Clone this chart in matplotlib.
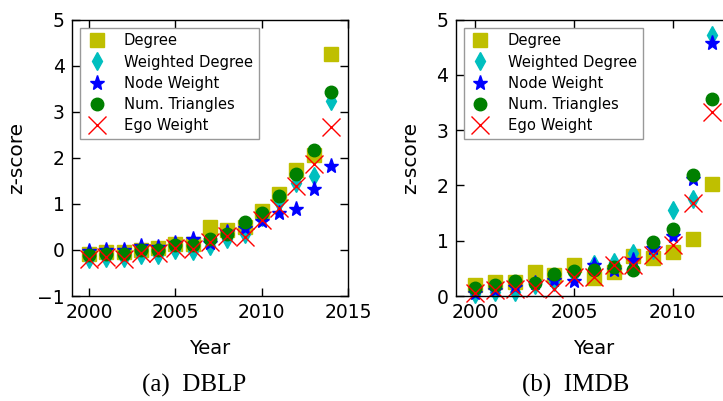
"""
Temporal z-score of node measures for DBLP and IMDB, one panel per network.
"""

import matplotlib

matplotlib.use("Agg")
import matplotlib.pyplot as plt

# ---------------------------------------------------------------------------
# Data
# ---------------------------------------------------------------------------

DBLP_YEARS = list(range(2000, 2015))
DBLP_DEGREE = [-0.08, -0.05, -0.05, 0.00, 0.05, 0.12, 0.12, 0.49, 0.43, 0.50,
               0.84, 1.21, 1.73, 2.07, 4.25]
DBLP_WDEGREE = [-0.20, -0.17, -0.17, -0.10, -0.10, 0.00, -0.03, 0.08, 0.24, 0.34,
                0.72, 1.03, 1.46, 1.60, 3.24]
DBLP_NODEW = [-0.03, 0.00, 0.00, 0.08, 0.06, 0.16, 0.23, 0.14, 0.39, 0.48,
              0.63, 0.81, 0.88, 1.33, 1.82]
DBLP_TRI = [-0.12, -0.08, -0.08, -0.01, 0.00, 0.10, 0.10, 0.24, 0.34, 0.60,
            0.81, 1.18, 1.64, 2.16, 3.42]
DBLP_EGO = [-0.19, -0.15, -0.19, -0.06, -0.06, 0.05, 0.03, 0.17, 0.31, 0.27,
            0.66, 0.90, 1.39, 1.86, 2.66]

IMDB_YEARS = list(range(2000, 2013))
IMDB_DEGREE = [0.20, 0.26, 0.26, 0.44, 0.38, 0.56, 0.32, 0.43, 0.73, 0.69,
               0.80, 1.03, 2.03]
IMDB_WDEGREE = [0.03, 0.08, 0.07, 0.20, 0.25, 0.40, 0.58, 0.62, 0.77, 0.84,
                1.55, 1.75, 4.72]
IMDB_NODEW = [0.05, 0.10, 0.17, 0.23, 0.29, 0.28, 0.56, 0.47, 0.65, 0.86,
              1.09, 2.11, 4.58]
IMDB_TRI = [0.14, 0.19, 0.27, 0.23, 0.40, 0.45, 0.47, 0.53, 0.47, 0.98,
            1.21, 2.19, 3.56]
IMDB_EGO = [0.05, 0.10, 0.12, 0.14, 0.12, 0.35, 0.35, 0.56, 0.56, 0.74,
            0.92, 1.68, 3.33]

LABELS = ["Degree", "Weighted Degree", "Node Weight", "Num. Triangles", "Ego Weight"]
MARKERS = ["s", "d", "*", "o", "x"]
COLORS = ["#bfbf00", "#00bfbf", "#0000ff", "#008000", "#ff0000"]
SIZES = [10, 9, 11, 9, 12.5]

W, H = 723, 401


def _panel(fig, rect, years, series, xlim, ylim, xticks, yticks):
    ax = fig.add_axes(rect)
    for vals, lab, mk, col, ms in zip(series, LABELS, MARKERS, COLORS, SIZES):
        ax.plot(years, vals, linestyle="none", marker=mk, color=col, mec=col,
                mew=1.0, ms=ms, label=lab, clip_on=False)
    ax.set_xticks(xticks)
    ax.set_yticks(yticks)
    ax.set_xlim(*xlim)
    ax.set_ylim(*ylim)
    ax.tick_params(direction="in", top=True, right=True, length=6, width=1,
                   labelsize=13.5, pad=5)
    ax.set_xlabel("Year", fontsize=14)
    ax.set_ylabel("z-score", fontsize=14.5)
    ax.xaxis.set_label_coords(0.5, -0.155)
    for sp in ax.spines.values():
        sp.set_linewidth(1.0)

    dx = 8 / (rect[2] * W)
    dy = 8 / (rect[3] * H)
    leg = ax.legend(loc="upper left", bbox_to_anchor=(dx, 1 - dy), borderaxespad=0,
                    numpoints=1, fontsize=10.6, fancybox=False, framealpha=1,
                    edgecolor="#999999", handlelength=1.5, handletextpad=1.1,
                    labelspacing=0.42, borderpad=0.4)
    leg.get_frame().set_linewidth(1.0)
    return ax


fig = plt.figure(figsize=(W / 100, H / 100), dpi=100)

ax1 = _panel(fig, [71.7 / W, (H - 296) / H, 276.5 / W, 276.5 / H],
             DBLP_YEARS, [DBLP_DEGREE, DBLP_WDEGREE, DBLP_NODEW, DBLP_TRI, DBLP_EGO],
             (1999, 2015), (-1, 5), [2000, 2005, 2010, 2015], range(-1, 6))
ax1.yaxis.set_label_coords(-46 / 276.5, 0.5)

ax2 = _panel(fig, [455.5 / W, (H - 296) / H, 276.5 / W, 276.5 / H],
             IMDB_YEARS, [IMDB_DEGREE, IMDB_WDEGREE, IMDB_NODEW, IMDB_TRI, IMDB_EGO],
             (1999, 2013), (0, 5), [2000, 2005, 2010], range(0, 6))
ax2.yaxis.set_label_coords(-35 / 276.5, 0.5)

fig.text(194 / W, 1 - 385 / H, "(a)  DBLP", ha="center", va="center",
         fontsize=18, family="Liberation Serif")
fig.text(576 / W, 1 - 385 / H, "(b)  IMDB", ha="center", va="center",
         fontsize=18, family="Liberation Serif")

fig.savefig("out.png", dpi=100, facecolor="white")
